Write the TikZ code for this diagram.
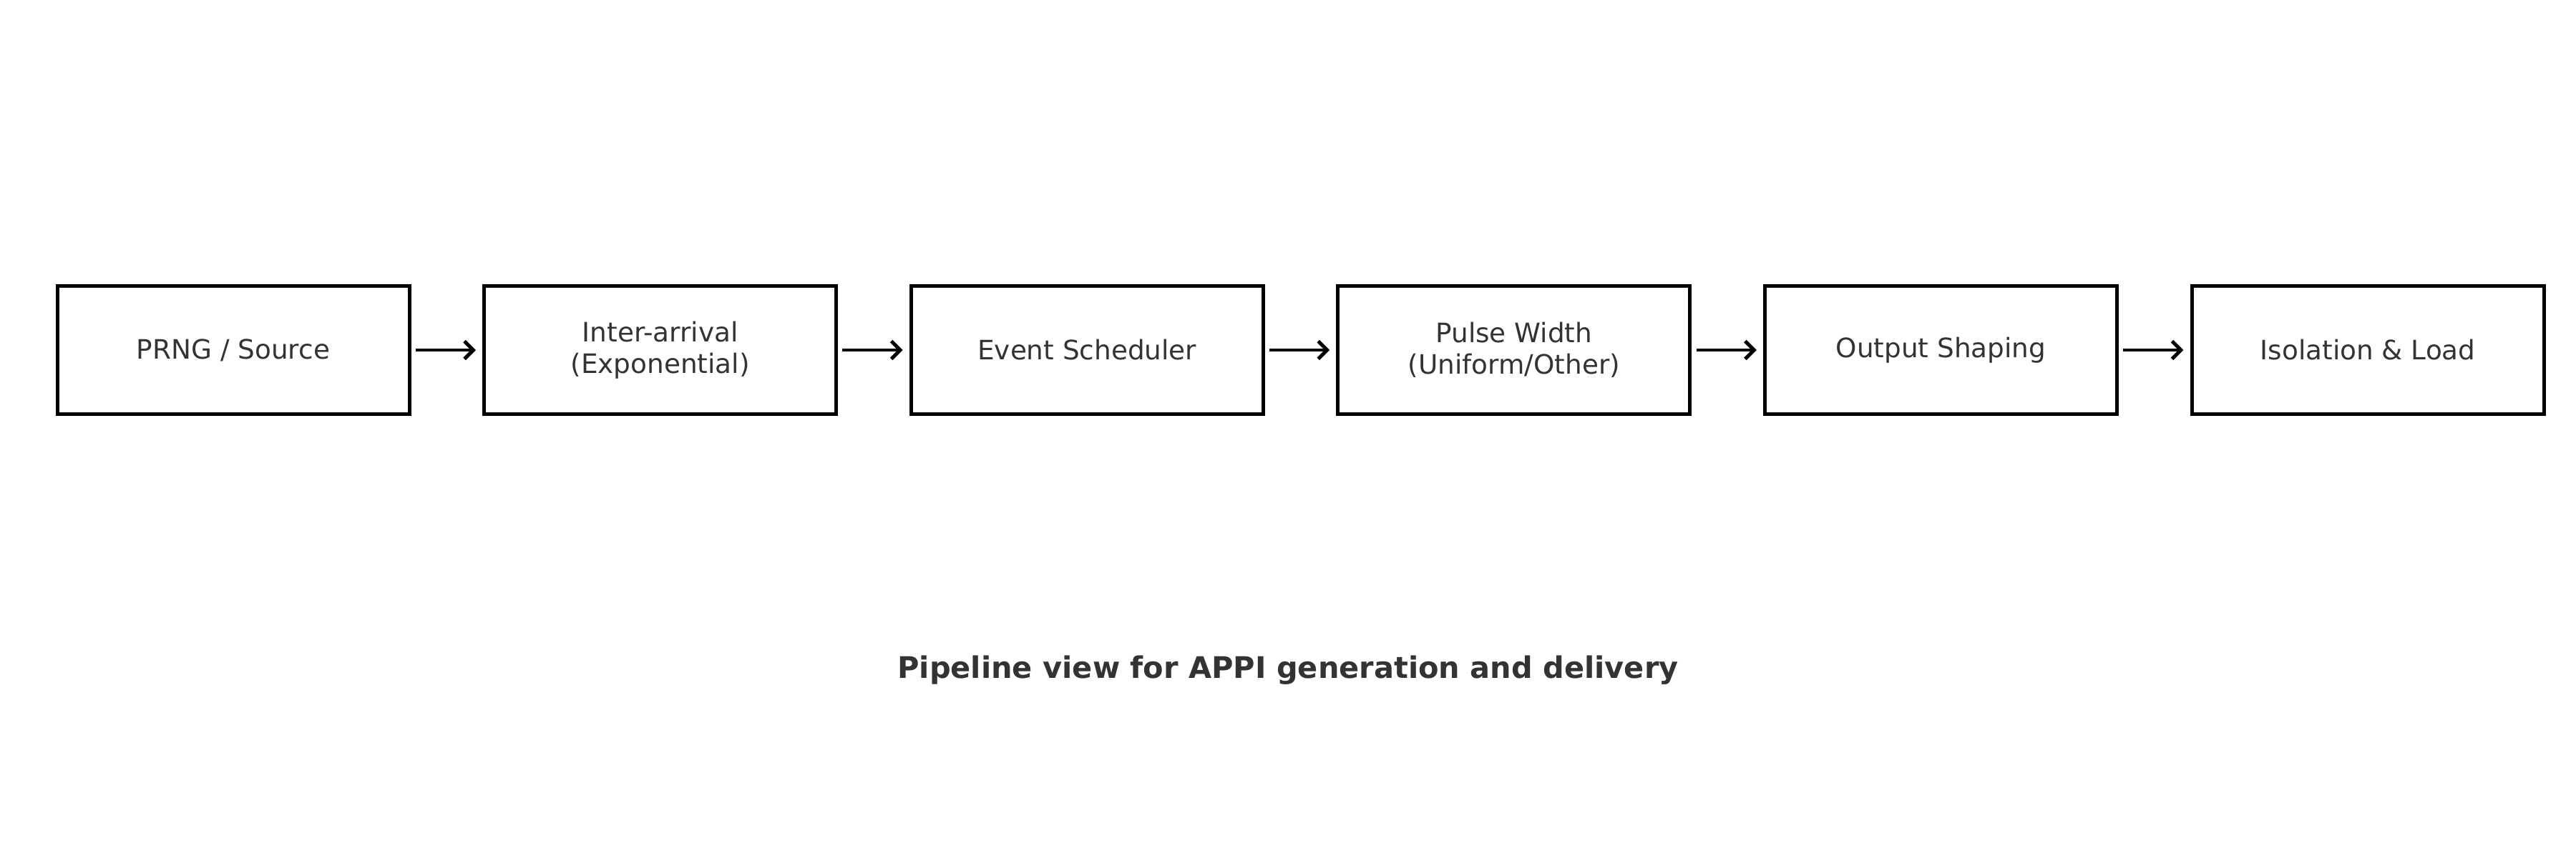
\documentclass[tikz,border=0pt]{standalone}
\usepackage{fontspec}
\setmainfont{DejaVu Sans}
\usetikzlibrary{positioning,arrows.meta}
\definecolor{txtgray}{HTML}{333333}
\tikzstyle{stage}=[draw=black, line width=1.2pt, minimum width=1.64in, minimum height=0.597in, align=center, text=txtgray, font=\fontsize{9}{10.5}\selectfont, inner sep=0pt]
\tikzstyle{flow}=[-{Straight Barb[length=3pt,width=6pt]}, line width=1.2pt, shorten <=1.5pt, shorten >=2.2pt]

\begin{document}
\begin{tikzpicture}[node distance=24pt]
	\useasboundingbox (0,0) rectangle (12in,-4in);
	\node[stage] (prng) at (1.0867in,-1.63in) {PRNG / Source};
	\node[stage, right=of prng] (inter) {Inter-arrival\\(Exponential)};
	\node[stage, right=of inter] (sched) {Event Scheduler};
	\node[stage, right=of sched] (width) {Pulse Width\\(Uniform/Other)};
	\node[stage, right=of width] (shape) {Output Shaping};
	\node[stage, right=of shape] (load) {Isolation \& Load};
	\draw[flow] (prng) -- (inter);
	\draw[flow] (inter) -- (sched);
	\draw[flow] (sched) -- (width);
	\draw[flow] (width) -- (shape);
	\draw[flow] (shape) -- (load);
	\node[text=txtgray, font=\bfseries\fontsize{10}{12}\selectfont] (title) at (6in,-3.122in) {Pipeline view for APPI generation and delivery};
\end{tikzpicture}
\end{document}
